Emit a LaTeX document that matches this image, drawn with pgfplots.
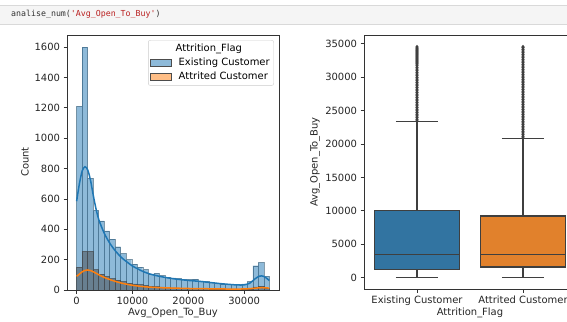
\documentclass[border=0pt]{standalone}
\usepackage{pgfplots}
\pgfplotsset{compat=1.18}
\usepackage{pgfplotstable}
\usepackage{fontspec}
\setmainfont{DejaVu Sans}
\setmonofont{DejaVu Sans Mono}
\definecolor{mblue}{HTML}{1F77B4}
\definecolor{morange}{HTML}{FF7F0E}
\definecolor{sblue}{HTML}{3274A1}
\definecolor{sorange}{HTML}{E1812C}
\definecolor{boxgray}{HTML}{3F3F3F}
\definecolor{codered}{HTML}{BA2121}
\definecolor{ovl}{RGB}{80,88,96}

\pgfplotstableread{
left existing attrited
3 1210 150
989 1600 255
1975 735 255
2961 525 135
3947 455 105
4933 390 90
5919 335 75
6905 285 65
7891 240 55
8877 200 45
9863 170 40
10849 150 35
11835 135 30
12821 105 25
13807 110 22
14793 95 20
15779 85 18
16765 80 15
17751 75 14
18737 70 12
19723 68 11
20709 72 12
21695 60 10
22681 55 9
23667 50 8
24653 42 8
25639 40 7
26625 38 7
27611 38 6
28597 35 6
29583 40 6
30569 55 8
31555 160 20
32541 180 25
33527 90 12
34513 0 0
}\histdata

\pgfplotstableread{
x y
0 585
500 700
1000 785
1500 812
2000 790
2500 720
3000 620
3500 530
4000 460
5000 370
6000 305
7000 255
8000 215
9000 185
10000 158
11000 138
12000 120
13000 107
14000 97
15000 89
16000 82
17000 76
18000 71
19000 67
20000 63
21000 60
22000 57
23000 53
24000 49
25000 45
26000 41
27000 38
28000 35
29000 33
30000 34
31000 45
32000 75
32800 92
33500 90
34000 78
34516 62
}\kdeE

\pgfplotstableread{
x y
0 90
500 105
1000 120
1500 129
2000 132
2500 128
3000 120
4000 100
5000 82
6000 68
7000 56
8000 46
9000 38
10000 31
12000 22
14000 17
16000 14
18000 12
20000 10
22000 9
24000 8
26000 7
28000 6
30000 7
31000 9
32000 12
33000 15
34000 14
34516 12
}\kdeA

\pgfplotstableread[row sep=\\]{
x y\\ 0 23450\\ 0 23700\\ 0 23950\\ 0 24200\\ 0 24450\\ 0 24700\\ 0 24950\\ 0 25200\\ 0 25450\\ 0 25700\\
0 25950\\ 0 26200\\ 0 26450\\ 0 26700\\ 0 26950\\ 0 27200\\ 0 27450\\ 0 27700\\ 0 27950\\ 0 28200\\
0 28450\\ 0 28700\\ 0 28950\\ 0 29200\\ 0 29450\\ 0 29700\\ 0 29950\\ 0 30200\\ 0 30450\\ 0 30700\\
0 30950\\ 0 31200\\ 0 31450\\ 0 31700\\ 0 31950\\ 0 32100\\ 0 32250\\ 0 32400\\ 0 32550\\ 0 32700\\
0 32850\\ 0 33000\\ 0 33150\\ 0 33300\\ 0 33450\\ 0 33600\\ 0 33750\\ 0 33900\\ 0 34050\\ 0 34200\\
0 34350\\ 0 34516\\
}\outE

\pgfplotstableread[row sep=\\]{
x y\\ 1 20900\\ 1 21150\\ 1 21400\\ 1 21650\\ 1 21900\\ 1 22150\\ 1 22400\\ 1 22650\\ 1 22900\\ 1 23150\\
1 23400\\ 1 23650\\ 1 23900\\ 1 24150\\ 1 24400\\ 1 24650\\ 1 24900\\ 1 25150\\ 1 25400\\ 1 25650\\
1 25900\\ 1 26150\\ 1 26400\\ 1 26650\\ 1 26900\\ 1 27150\\ 1 27400\\ 1 27650\\ 1 27900\\ 1 28150\\
1 28400\\ 1 28650\\ 1 28900\\ 1 29150\\ 1 29400\\ 1 29650\\ 1 29900\\ 1 30150\\ 1 30400\\ 1 30650\\
1 30900\\ 1 31150\\ 1 31400\\ 1 31650\\ 1 31900\\ 1 32150\\ 1 32400\\ 1 32650\\ 1 32900\\ 1 33150\\
1 33400\\ 1 33650\\ 1 33900\\ 1 34150\\ 1 34400\\ 1 34516\\
}\outA

\newcommand{\tfont}{\fontsize{10}{12}\selectfont}

\pgfplotsset{
  mystyle/.style={
    scale only axis,
    anchor=south west,
    axis line style={black!80, line width=0.8bp},
    tick align=outside,
    xtick pos=lower, ytick pos=left,
    major tick length=3.5bp,
    every tick/.style={black!80, line width=0.8bp},
    tick label style={font=\tfont, text=black!85},
    scaled ticks=false,
    /pgf/number format/1000 sep={},
    /pgf/number format/assume math mode=true,
  },
}

\begin{document}
\begin{tikzpicture}
\useasboundingbox (0,0) rectangle (567bp,322bp);
\fill[white] (0,0) rectangle (567bp,322bp);
\clip (0,0) rectangle (567bp,322bp);

% header code cell
\fill[black!4] (0,298bp) rectangle (567bp,317bp);
\draw[black!15, line width=0.6bp] (0,317bp) -- (567bp,317bp);
\draw[black!15, line width=0.6bp] (0,298bp) -- (567bp,298bp);
\node[anchor=west, inner sep=0pt] at (11bp,307.5bp)
  {\ttfamily\fontsize{8.3}{9}\selectfont\color{black!80}analise\_num(\textcolor{codered}{\textquotesingle Avg\_Open\_To\_Buy\textquotesingle})};

% ---------- histogram ----------
\begin{axis}[mystyle,
  at={(67bp,32bp)}, width=212bp, height=255bp,
  xmin=-1723, xmax=36239, ymin=0, ymax=1680,
  xtick={0,10000,20000,30000},
  ytick={0,200,400,600,800,1000,1200,1400,1600},
  legend style={at={(rel axis cs:0.976,0.980)}, anchor=north east,
    draw=black!20, rounded corners=2bp, fill=white, fill opacity=0.8, text opacity=1,
    font=\tfont, row sep=1bp, inner xsep=2bp, inner ysep=2bp},
  legend cell align=left,
  legend image code/.code={%
    \path[draw=none, fill=none] (0bp,-0.1bp) rectangle (26bp,0.1bp);
    \draw[#1, sharp corners] (0bp,-3.4bp) rectangle (21bp,3.4bp);},
]
\addplot[ybar interval, fill=mblue, fill opacity=0.5, draw=mblue!50!black, draw opacity=0.5, line width=0.4bp, forget plot]
  table[x=left, y=existing] {\histdata};
\addplot[ybar interval, fill=ovl, fill opacity=0.6, draw=black!75, draw opacity=0.6, line width=0.4bp, forget plot]
  table[x=left, y=attrited] {\histdata};
\addplot[mblue, line width=1.5bp, smooth, forget plot] table[x=x, y=y] {\kdeE};
\addplot[morange, line width=1.5bp, smooth, forget plot] table[x=x, y=y] {\kdeA};

\addlegendimage{empty legend}
\addlegendentry{\hspace*{-3bp}Attrition\_Flag}
\addlegendimage{fill=mblue, fill opacity=0.5, draw=black!70, line width=0.8bp}
\addlegendentry{Existing Customer}
\addlegendimage{fill=morange, fill opacity=0.5, draw=black!70, line width=0.8bp}
\addlegendentry{Attrited Customer}
\end{axis}

% ---------- boxplot ----------
\begin{axis}[mystyle,
  at={(364bp,33bp)}, width=212bp, height=254bp,
  xmin=-0.5, xmax=1.5, ymin=-1700, ymax=36300,
  xtick={0,1}, xticklabels={Existing Customer, Attrited Customer},
  ytick={0,5000,10000,15000,20000,25000,30000,35000},
]
% whiskers (vertical)
\addplot[boxgray, line width=1.4bp] coordinates {(0,15) (0,1200)};
\addplot[boxgray, line width=1.4bp] coordinates {(0,10020) (0,23330)};
\addplot[boxgray, line width=1.4bp] coordinates {(1,15) (1,1600)};
\addplot[boxgray, line width=1.4bp] coordinates {(1,9210) (1,20780)};
% caps
\addplot[boxgray, line width=1.4bp] coordinates {(-0.2,15) (0.2,15)};
\addplot[boxgray, line width=1.4bp] coordinates {(-0.2,23330) (0.2,23330)};
\addplot[boxgray, line width=1.4bp] coordinates {(0.8,15) (1.2,15)};
\addplot[boxgray, line width=1.4bp] coordinates {(0.8,20780) (1.2,20780)};
% boxes
\addplot[fill=sblue, draw=boxgray, line width=1.4bp] coordinates {(-0.4,1200) (0.4,1200) (0.4,10020) (-0.4,10020)} -- cycle;
\addplot[fill=sorange, draw=boxgray, line width=1.4bp] coordinates {(0.6,1600) (1.4,1600) (1.4,9210) (0.6,9210)} -- cycle;
% medians
\addplot[boxgray, line width=1.4bp] coordinates {(-0.4,3455) (0.4,3455)};
\addplot[boxgray, line width=1.4bp] coordinates {(0.6,3460) (1.4,3460)};
% outliers
\addplot[only marks, mark=diamond*, mark size=1.8bp, mark options={fill=boxgray, draw=boxgray, line width=0.3bp}] table[x=x, y=y] {\outE};
\addplot[only marks, mark=diamond*, mark size=1.8bp, mark options={fill=boxgray, draw=boxgray, line width=0.3bp}] table[x=x, y=y] {\outA};
\end{axis}

% axis labels
\node[font=\tfont, text=black!85] at (173bp,8.7bp) {Avg\_Open\_To\_Buy};
\node[font=\tfont, text=black!85, rotate=90] at (25bp,160bp) {Count};
\node[font=\tfont, text=black!85] at (470bp,8.7bp) {Attrition\_Flag};
\node[font=\tfont, text=black!85, rotate=90] at (315bp,160bp) {Avg\_Open\_To\_Buy};
\end{tikzpicture}
\end{document}
